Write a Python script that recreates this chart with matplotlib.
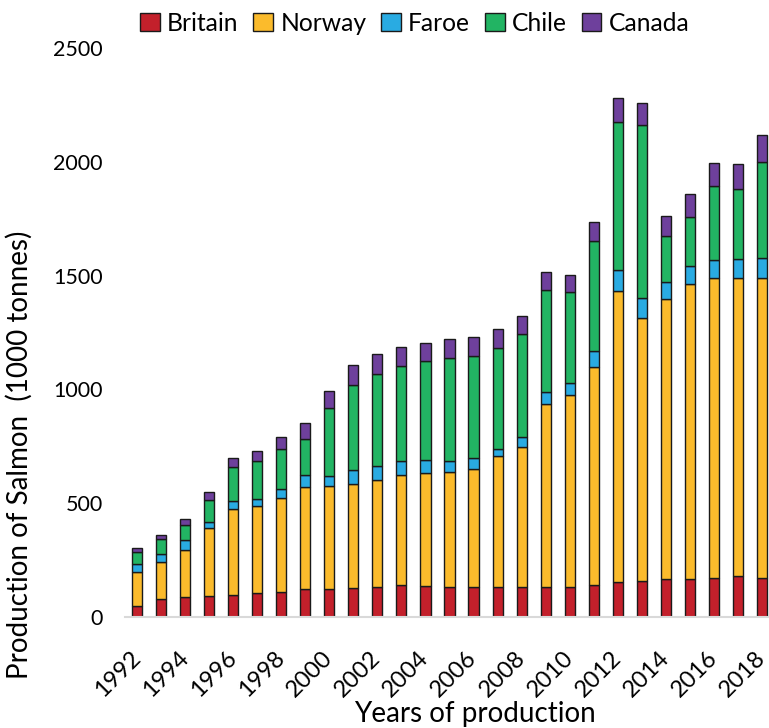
import numpy as np
import matplotlib.pyplot as plt

plt.rcParams['font.family'] = ['Lato', 'DejaVu Sans']

years = np.arange(1992, 2019)
britain = [48, 79, 88, 94, 97, 105, 110, 122, 122, 127, 132, 139, 136, 130,
           132, 132, 132, 132, 133, 142, 155, 158, 165, 168, 171, 182, 173]
norway = [148, 161, 207, 298, 378, 384, 415, 450, 454, 456, 469, 483, 495, 508,
          518, 575, 613, 804, 844, 956, 1277, 1156, 1232, 1294, 1318, 1309, 1315]
faroe = [35, 38, 44, 26, 36, 30, 38, 51, 43, 61, 63, 63, 60, 47,
         47, 31, 45, 53, 50, 72, 91, 88, 77, 79, 79, 80, 88]
chile = [53, 64, 65, 97, 149, 166, 175, 157, 300, 377, 403, 417, 432, 454,
         449, 446, 454, 447, 400, 480, 654, 760, 202, 217, 326, 311, 422]
canada = [17, 18, 26, 32, 39, 44, 55, 72, 74, 88, 88, 85, 83, 83,
          85, 80, 80, 79, 76, 85, 103, 96, 86, 100, 101, 107, 120]

names = ['Britain', 'Norway', 'Faroe', 'Chile', 'Canada']
colors = ['#C3202B', '#FBBB2C', '#29ABE2', '#22B463', '#6E409C']
series = [britain, norway, faroe, chile, canada]

fig = plt.figure(figsize=(7.69, 7.28), dpi=100)
ax = fig.add_axes([0.1625, 0.1525, 0.8375, 0.7815])

bottom = np.zeros(len(years))
for name, col, vals in zip(names, colors, series):
    ax.bar(years, vals, width=0.42, bottom=bottom, color=col,
           edgecolor='#1a1a1a', linewidth=1.0, label=name)
    bottom += np.array(vals)

ax.set_xlim(1991.5, 2018.29)
ax.set_ylim(0, 2500)
ax.set_yticks(np.arange(0, 2501, 500))
ax.set_xticks(years[::2])
ax.set_xticklabels([str(y) for y in years[::2]], rotation=45, ha='right',
                   va='center', rotation_mode='anchor', fontsize=17)
ax.tick_params(axis='x', length=0, pad=27)
ax.tick_params(axis='y', length=0, pad=16, labelsize=15.5)

for s in ['left', 'right', 'top']:
    ax.spines[s].set_visible(False)
ax.spines['bottom'].set_color('#d9d9d9')
ax.spines['bottom'].set_linewidth(1.5)

ax.set_ylabel('Production of Salmon  (1000 tonnes)', fontsize=20)
ax.yaxis.set_label_coords(-0.143, 0.285)
ax.set_xlabel('Years of production', fontsize=20)
ax.xaxis.set_label_coords(0.543, -0.148)

ax.legend(loc='lower center', bbox_to_anchor=(0.45, 1.0), ncol=5, frameon=False,
          fontsize=17.7, handlelength=0.8, handleheight=0.8, handletextpad=0.3,
          columnspacing=0.6, borderaxespad=0.15)

fig.savefig('out.png', dpi=100)
